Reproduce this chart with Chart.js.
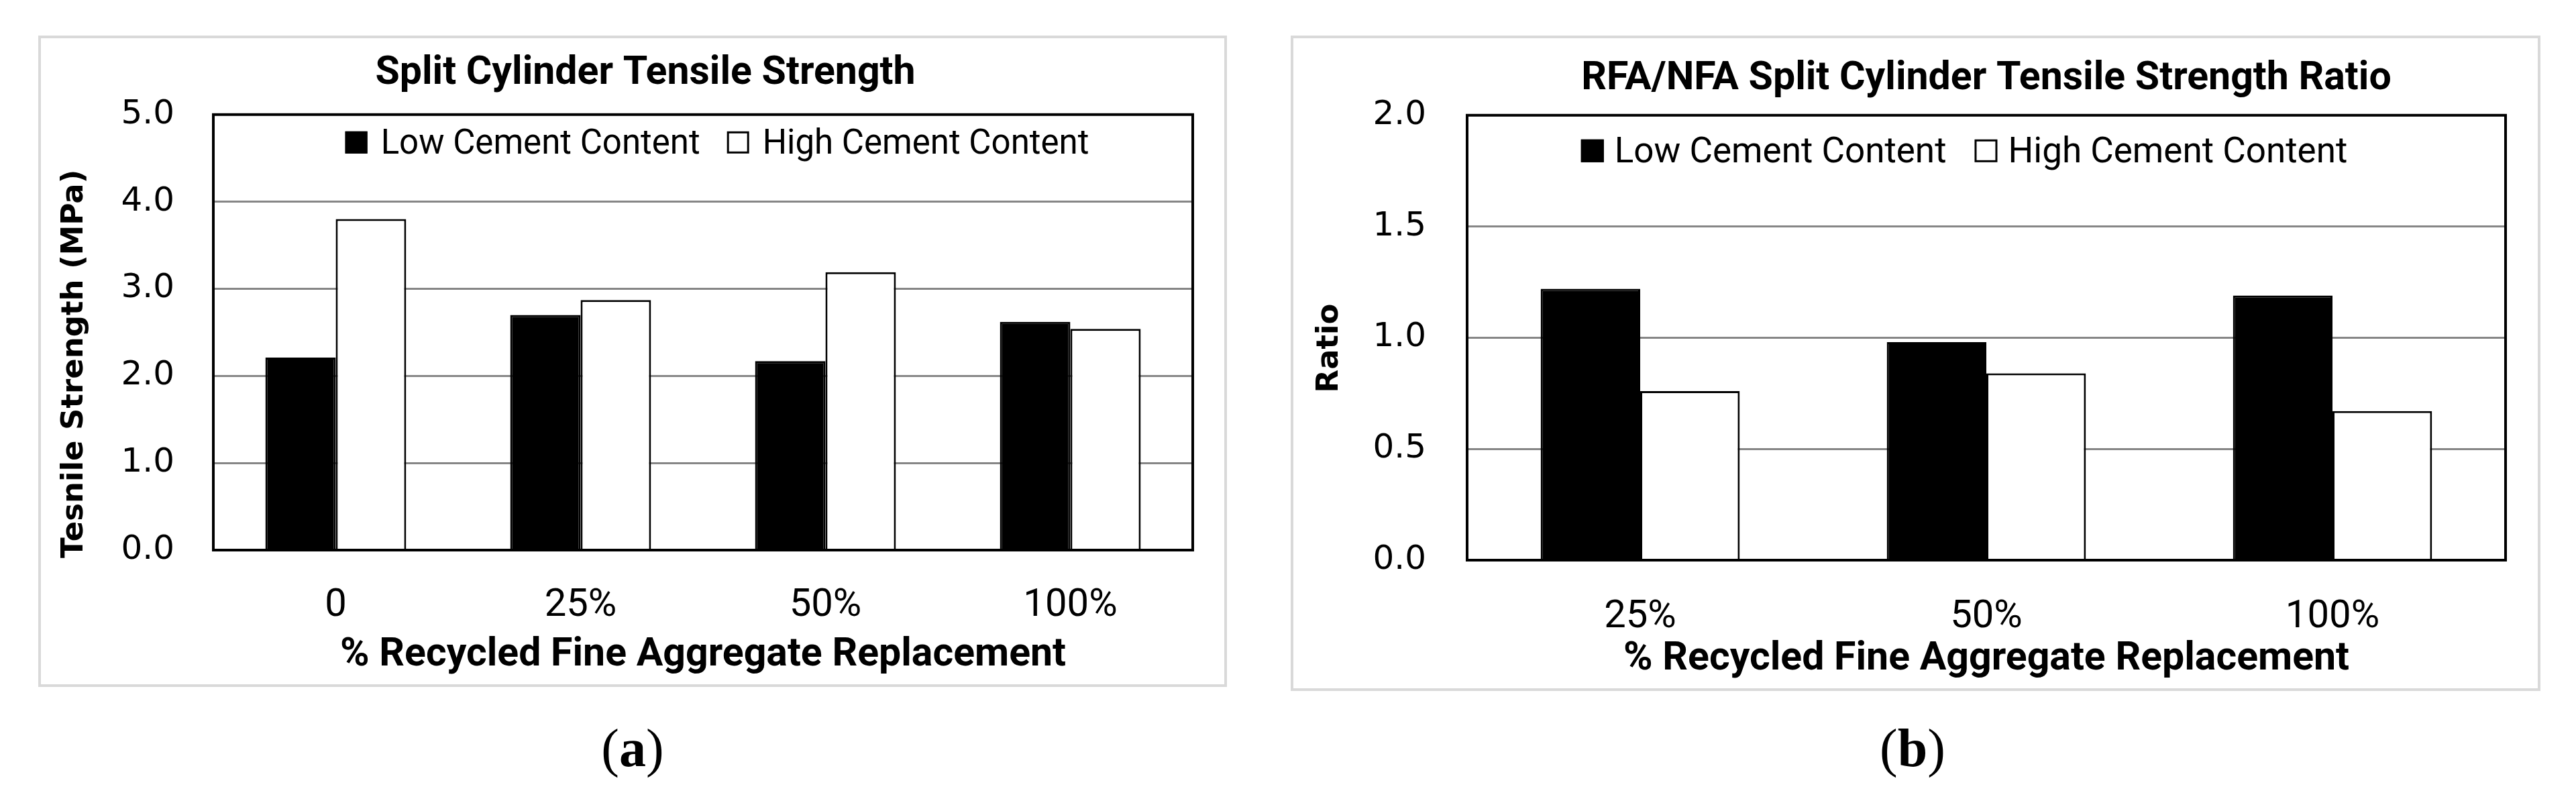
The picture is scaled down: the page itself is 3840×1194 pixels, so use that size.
<!DOCTYPE html>
<html>
<head>
<meta charset="utf-8">
<script src="https://cdn.jsdelivr.net/npm/chart.js@4.4.1/dist/chart.umd.min.js"></script>
<style>
  html, body { margin: 0; padding: 0; background: #fff; overflow: hidden; }
  body { width: 3840px; height: 1194px; position: relative; }
  .frame { position: absolute; box-sizing: border-box; border: 4px solid #d9d9d9; }
  canvas { position: absolute; }
  .cap { position: absolute; font-family: "Liberation Serif", serif; font-size: 80px; line-height: 80px; color: #000; transform: translateX(-50%); white-space: nowrap; }
</style>
</head>
<body>
<div class="frame" style="left:57px;top:53px;width:1772px;height:971px"></div>
<div class="frame" style="left:1924px;top:53px;width:1863px;height:977px"></div>
<canvas id="chartA" width="1768" height="967" style="left:59px;top:55px"></canvas>
<canvas id="chartB" width="1859" height="973" style="left:1926px;top:55px"></canvas>
<div class="cap" style="left:943px;top:1075px">(<b>a</b>)</div>
<div class="cap" style="left:2851px;top:1075px">(<b>b</b>)</div>
<script>
// values
const replacementA = ["0", "25%", "50%", "100%"];
const lowStrength = [2.21, 2.70, 2.17, 2.62];
const highStrength = [3.80, 2.87, 3.19, 2.54];
const strengthTicks = [0, 1, 2, 3, 4, 5];

const replacementB = ["25%", "50%", "100%"];
const lowRatio = [1.22, 0.98, 1.19];
const highRatio = [0.76, 0.84, 0.67];
const ratioTicks = [0, 0.5, 1, 1.5, 2];

const seriesNames = ["Low Cement Content", "High Cement Content"];

// legend drawn inside the plot area, like the Excel original
const insideLegend = {
  id: "insideLegend",
  afterDraw(chart, args, opts) {
    const { ctx, chartArea } = chart;
    ctx.save();
    ctx.font = opts.font;
    const items = chart.data.datasets.map((ds) => ({
      text: ds.label,
      fill: ds.backgroundColor,
      stroke: ds.borderColor,
      w: ctx.measureText(ds.label).width,
    }));
    let total = 0;
    items.forEach((it, i) => {
      total += opts.box + opts.gap + it.w + (i ? opts.spacing : 0);
    });
    let x = opts.centerX - total / 2;
    const y = chartArea.top + opts.top;
    items.forEach((it) => {
      ctx.fillStyle = it.fill;
      ctx.fillRect(x, y, opts.box, opts.box);
      ctx.lineWidth = 3;
      ctx.strokeStyle = it.stroke;
      ctx.strokeRect(x + 1.5, y + 1.5, opts.box - 3, opts.box - 3);
      ctx.fillStyle = "#000";
      ctx.textBaseline = "alphabetic";
      ctx.textAlign = "left";
      ctx.fillText(it.text, x + opts.box + opts.gap, y + opts.box);
      x += opts.box + opts.gap + it.w + opts.spacing;
    });
    ctx.restore();
  },
};

// black box round the plot area
const plotFrame = {
  id: "plotFrame",
  afterDatasetsDraw(chart) {
    const { ctx, chartArea: a } = chart;
    ctx.save();
    ctx.strokeStyle = "#000";
    ctx.lineWidth = 4;
    ctx.strokeRect(a.left, a.top, a.right - a.left, a.bottom - a.top);
    ctx.restore();
  },
};

function makeChart(id, cfg) {
  const bold = (size, family) => ({ family: family || "Roboto", weight: "bold", size });
  return new Chart(document.getElementById(id), {
    type: "bar",
    data: {
      labels: cfg.labels,
      datasets: [
        { label: seriesNames[0], data: cfg.low, backgroundColor: "#000000", borderColor: "#000000", borderWidth: 3 },
        { label: seriesNames[1], data: cfg.high, backgroundColor: "#ffffff", borderColor: "#000000", borderWidth: 3 },
      ],
    },
    options: {
      responsive: false,
      animation: false,
      devicePixelRatio: 1,
      categoryPercentage: 0.575,
      barPercentage: 1,
      // left padding only shifts where the chart title is centred
      layout: { padding: { left: cfg.padLeft, right: cfg.padRight, top: 0, bottom: 0 } },
      plugins: {
        legend: { display: false },
        tooltip: { enabled: false },
        title: {
          display: true,
          text: cfg.title,
          color: "#000",
          font: bold(59),
          fullSize: cfg.titleFull,
          padding: cfg.titlePad,
        },
        insideLegend: cfg.legend,
      },
      scales: {
        x: {
          grid: { display: false, drawTicks: false },
          border: { display: false },
          ticks: { color: "#000", font: { family: "Roboto", size: 58 }, padding: cfg.xTickPad },
          title: {
            display: true,
            text: "% Recycled Fine Aggregate Replacement",
            color: "#000",
            font: bold(59),
            padding: { top: 0, bottom: 9 },
          },
          afterFit: (s) => { s.height = cfg.xHeight; },
        },
        y: {
          min: cfg.ticks[0],
          max: cfg.ticks[cfg.ticks.length - 1],
          afterBuildTicks: (s) => { s.ticks = cfg.ticks.map((v) => ({ value: v })); },
          grid: { color: "#868686", lineWidth: 3, drawTicks: false },
          border: { display: false },
          ticks: {
            color: "#000",
            font: { family: "DejaVu Sans", size: 50 },
            padding: cfg.yTickPad,
            callback: (v) => Number(v).toFixed(1),
          },
          title: {
            display: true,
            text: cfg.yTitle,
            color: "#000",
            font: bold(45, "DejaVu Sans"),
            padding: { top: cfg.yTitlePad, bottom: 0 },
          },
          afterFit: (s) => { s.width = cfg.yWidth; },
        },
      },
    },
    plugins: [insideLegend, plotFrame],
  });
}

makeChart("chartA", {
  labels: replacementA,
  low: lowStrength,
  high: highStrength,
  ticks: strengthTicks,
  title: "Split Cylinder Tensile Strength",
  titleFull: true,
  titlePad: { top: 20, bottom: 25 },
  yTitle: "Tesnile Strength (MPa)\u00a0\u00a0\u00a0\u00a0\u00a0\u00a0",
  yTitlePad: -62,
  yTickPad: 58,
  padLeft: 87,
  yWidth: 172,
  xHeight: 202,
  xTickPad: 49,
  padRight: 49,
  legend: { font: "51px Roboto", box: 33, gap: 20, spacing: 40, centerX: 1010, top: 25 },
});

makeChart("chartB", {
  labels: replacementB,
  low: lowRatio,
  high: highRatio,
  ticks: ratioTicks,
  title: "RFA/NFA Split Cylinder Tensile Strength Ratio",
  titleFull: false,
  titlePad: { top: 28, bottom: 18 },
  yTitle: "Ratio\u00a0\u00a0",
  yTitlePad: 29,
  yTickPad: 61,
  padLeft: 0,
  yWidth: 261,
  xHeight: 193,
  xTickPad: 51,
  padRight: 50,
  legend: { font: "53px Roboto", box: 34, gap: 16, spacing: 42, centerX: 1002, top: 36 },
});
</script>
</body>
</html>
